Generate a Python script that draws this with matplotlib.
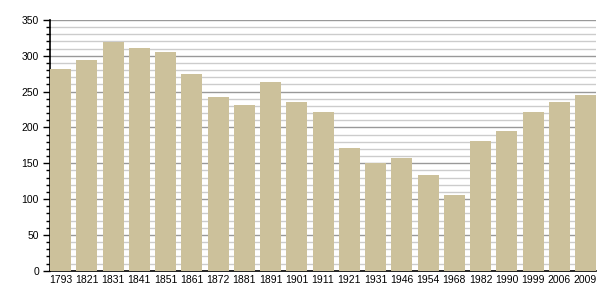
import matplotlib
matplotlib.use("Agg")
import matplotlib.pyplot as plt
from matplotlib.ticker import MultipleLocator

years = ["1793", "1821", "1831", "1841", "1851", "1861", "1872", "1881", "1891", "1901",
         "1911", "1921", "1931", "1946", "1954", "1968", "1982", "1990", "1999", "2006", "2009"]
population = [282, 294, 319, 311, 305, 274, 243, 231, 264, 235,
              221, 171, 150, 157, 134, 106, 181, 195, 221, 236, 245]

plt.rcParams['font.family'] = ['Liberation Sans', 'DejaVu Sans']

fig = plt.figure(figsize=(6.05, 3.0), dpi=100)
ax = fig.add_axes([50/605, 1 - 270.7/300, 546/605, 250.7/300])

x = list(range(len(years)))
ax.bar(x, population, width=0.8, color="#ccc19b", zorder=3)

ax.set_xlim(-0.4, len(years) - 0.6)
ax.set_ylim(0, 350)
ax.set_xticks(x)
ax.set_xticklabels(years, fontsize=7.5)
ax.yaxis.set_major_locator(MultipleLocator(50))
ax.yaxis.set_minor_locator(MultipleLocator(10))
ax.tick_params(axis='y', which='major', length=5, width=1, labelsize=7.5, pad=3)
ax.tick_params(axis='y', which='minor', length=3, width=1)
ax.tick_params(axis='x', length=0, pad=3)

ax.grid(axis='y', which='major', color='#999999', linewidth=1, zorder=1)
ax.grid(axis='y', which='minor', color='#cccccc', linewidth=1, zorder=1)
ax.set_axisbelow(True)

for s in ['top', 'right']:
    ax.spines[s].set_visible(False)
ax.spines['left'].set_linewidth(1.2)
ax.spines['bottom'].set_linewidth(1.2)

fig.savefig("out.png", dpi=100)
